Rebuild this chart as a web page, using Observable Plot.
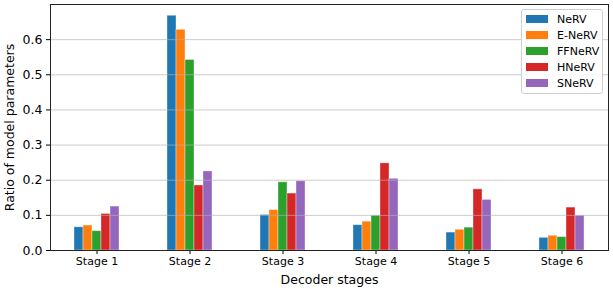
<!DOCTYPE html>
<html>
<head>
<meta charset="utf-8">
<script src="https://cdn.jsdelivr.net/npm/d3@7"></script>
<script src="https://cdn.jsdelivr.net/npm/@observablehq/plot@0.6"></script>
<style>
  html, body { margin: 0; padding: 0; background: #fff; }
  #wrap { position: relative; width: 613px; height: 289px; font-family: "DejaVu Sans", sans-serif; }
  #legend { position: absolute; left: 521px; top: 9px; width: 82px; height: 85px; border: 1px solid #d0d0d0; border-radius: 3px; background: rgba(255,255,255,0.8); box-sizing: border-box; }
  .row { position: absolute; left: 4px; height: 14px; display: flex; align-items: center; font-size: 11px; color: #000; white-space: nowrap; }
  .sw { width: 22px; height: 8px; margin-right: 9px; }
  [aria-label="fx-axis label"] text, [aria-label="x-axis label"] text { font-size: 12.5px; }
</style>
</head>
<body>
<div id="wrap"><div id="legend"></div></div>
<script>
const stages = ["Stage 1", "Stage 2", "Stage 3", "Stage 4", "Stage 5", "Stage 6"];
const series = ["NeRV", "E-NeRV", "FFNeRV", "HNeRV", "SNeRV"];
const colors = ["#1f77b4", "#ff7f0e", "#2ca02c", "#d62728", "#9467bd"];
const NeRV   = [0.066, 0.668, 0.101, 0.072, 0.051, 0.036];
const ENeRV  = [0.071, 0.628, 0.115, 0.082, 0.059, 0.042];
const FFNeRV = [0.055, 0.542, 0.194, 0.099, 0.065, 0.038];
const HNeRV  = [0.104, 0.185, 0.162, 0.248, 0.174, 0.122];
const SNeRV  = [0.125, 0.225, 0.197, 0.204, 0.144, 0.099];
const yTicks = [0, 0.1, 0.2, 0.3, 0.4, 0.5, 0.6];

const valuesBySeries = [NeRV, ENeRV, FFNeRV, HNeRV, SNeRV];
const data = [];
stages.forEach((s, i) => series.forEach((k, j) => data.push({stage: s, series: k, value: valuesBySeries[j][i]})));

const chart = Plot.plot({
  width: 613,
  height: 289,
  marginLeft: 50,
  marginRight: 5,
  marginTop: 4,
  marginBottom: 39,
  style: {fontFamily: "DejaVu Sans, sans-serif", fontSize: "11px", color: "#000", background: "#fff"},
  fx: {domain: stages, paddingInner: 0, paddingOuter: 0, label: "Decoder stages", labelAnchor: "center", labelOffset: 33, labelArrow: false, tickSize: 4, tickPadding: 3},
  x: {domain: series, paddingInner: 0, paddingOuter: 2.5, axis: null},
  y: {domain: [0, 0.70]},
  color: {domain: series, range: colors},
  marks: [
    Plot.barY(data, {fx: "stage", x: "series", y: "value", fill: "series", stroke: "white", strokeOpacity: 0.45, strokeWidth: 0.8}),
    Plot.ruleY(yTicks.slice(1), {stroke: "#b0b0b0", strokeOpacity: 0.65, strokeWidth: 1}),
    Plot.axisY({ticks: yTicks, tickFormat: ".1f", tickSize: 4, tickPadding: 4, fontSize: 12.5, label: "Ratio of model parameters", labelAnchor: "center", labelArrow: false, labelOffset: 45}),
    Plot.frame({facet: "super", stroke: "#222", strokeWidth: 1})
  ]
});
document.getElementById("wrap").prepend(chart);

const legend = document.getElementById("legend");
series.forEach((k, j) => {
  const row = document.createElement("div");
  row.className = "row";
  row.style.top = (2 + j * 16) + "px";
  const sw = document.createElement("div");
  sw.className = "sw";
  sw.style.background = colors[j];
  row.appendChild(sw);
  row.appendChild(document.createTextNode(k));
  legend.appendChild(row);
});
</script>
</body>
</html>
